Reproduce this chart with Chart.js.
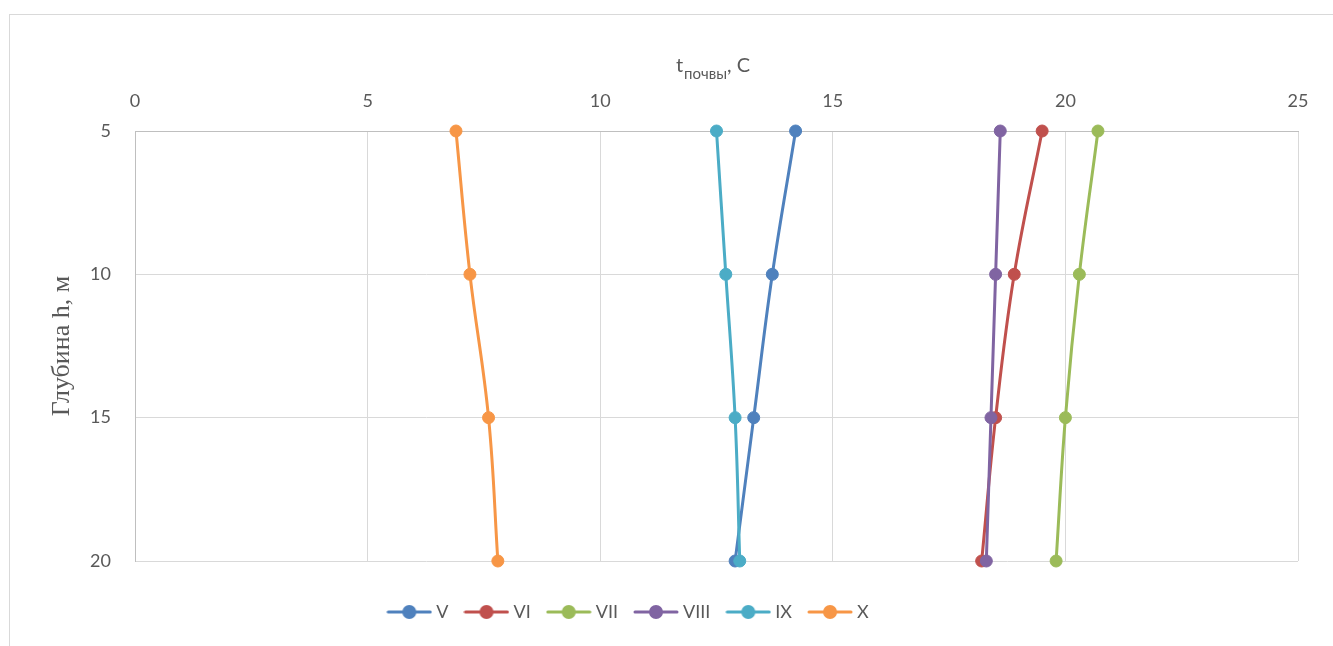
<!DOCTYPE html>
<html>
<head>
<meta charset="utf-8">
<script src="https://cdn.jsdelivr.net/npm/chart.js@4/dist/chart.umd.min.js"></script>
<style>
  html, body { margin: 0; padding: 0; background: #fff; overflow: hidden; }
  #frame { position: absolute; left: 9px; top: 14px; width: 1340px; height: 650px; border: 1px solid #d9d9d9; box-sizing: border-box; }
  #wrap { position: absolute; left: 0; top: 0; width: 1333px; height: 646px; }
</style>
</head>
<body>
<div id="frame"></div>
<div id="wrap"><canvas id="c" width="1333" height="646"></canvas></div>
<script>
// Soil temperature by depth, months V–X
const depths = [5, 10, 15, 20];
const months = ['V', 'VI', 'VII', 'VIII', 'IX', 'X'];
const tempV    = [14.2, 13.7, 13.3, 12.9];
const tempVI   = [19.5, 18.9, 18.5, 18.2];
const tempVII  = [20.7, 20.3, 20.0, 19.8];
const tempVIII = [18.6, 18.5, 18.4, 18.3];
const tempIX   = [12.5, 12.7, 12.9, 13.0];
const tempX    = [6.9, 7.2, 7.6, 7.8];
const xTicks = [0, 5, 10, 15, 20, 25];
const yTicks = [5, 10, 15, 20];

const series = [tempV, tempVI, tempVII, tempVIII, tempIX, tempX];
const colors = ['#4F81BD', '#C0504D', '#9BBB59', '#8064A2', '#4BACC6', '#F79646'];
const tickFont = { family: 'Lato', size: 18 };
const textColor = '#595959';

// legend swatch: short line with a dot in the middle
function swatch(color) {
  const cv = document.createElement('canvas');
  cv.width = 46; cv.height = 16;
  const g = cv.getContext('2d');
  g.strokeStyle = color; g.lineWidth = 3; g.lineCap = 'round';
  g.beginPath(); g.moveTo(2, 8); g.lineTo(44, 8); g.stroke();
  g.fillStyle = color;
  g.beginPath(); g.arc(23, 8, 7, 0, Math.PI * 2); g.fill();
  return cv;
}
const swatches = colors.map(swatch);

const datasets = series.map((vals, i) => ({
  label: months[i],
  data: vals.map((v, k) => ({ x: v, y: depths[k] })),
  borderColor: colors[i],
  backgroundColor: colors[i],
  pointBackgroundColor: colors[i],
  pointBorderColor: colors[i],
  pointRadius: 6,
  pointBorderWidth: 1,
  borderWidth: 3,
  showLine: true,
  tension: 0.4,
  clip: false,
  order: series.length - i
}));

// axis title above the top scale: t with subscript "почвы", then ", C"
const topTitle = {
  id: 'topTitle',
  afterDraw(chart) {
    const ctx = chart.ctx;
    const a = chart.chartArea;
    const cx = (a.left + a.right) / 2 - 4;
    const big = '20px Lato', small = '15px Lato';
    ctx.save();
    ctx.fillStyle = textColor;
    ctx.textBaseline = 'alphabetic';
    ctx.font = big; const w1 = ctx.measureText('t').width;
    ctx.font = small; const w2 = ctx.measureText('почвы').width;
    ctx.font = big; const w3 = ctx.measureText(', C').width;
    let x = cx - (w1 + w2 + w3) / 2;
    ctx.textAlign = 'left';
    ctx.font = big; ctx.fillText('t', x, 72); x += w1 + 1;
    ctx.font = small; ctx.fillText('почвы', x, 79); x += w2;
    ctx.font = big; ctx.fillText(', C', x, 72);
    ctx.restore();
  }
};

const legendShift = {
  id: 'legendShift',
  afterLayout(chart) {
    const l = chart.legend;
    if (l) { l.left -= 19; l.right -= 19; }
  }
};

new Chart(document.getElementById('c'), {
  type: 'scatter',
  data: { datasets },
  plugins: [topTitle, legendShift],
  options: {
    responsive: false,
    animation: false,
    layout: { padding: { left: 0, top: 0, right: 35, bottom: 15 } },
    scales: {
      x: {
        type: 'linear', position: 'top', min: 0, max: 25,
        afterBuildTicks(s) { s.ticks = xTicks.map(v => ({ value: v })); },
        afterFit(s) { s.height = 131; },
        grid: { color: '#d9d9d9', lineWidth: 1, drawTicks: false },
        border: { display: true, color: '#bfbfbf', width: 1 },
        ticks: { color: textColor, font: tickFont, padding: 19 }
      },
      y: {
        type: 'linear', position: 'left', min: 5, max: 20, reverse: true,
        afterBuildTicks(s) { s.ticks = yTicks.map(v => ({ value: v })); },
        afterFit(s) { s.width = 135; },
        grid: { color: '#d9d9d9', lineWidth: 1, drawTicks: false },
        border: { display: true, color: '#bfbfbf', width: 1 },
        ticks: { color: textColor, font: tickFont, padding: 24 },
        title: { display: true, text: 'Глубина h, м', color: textColor,
                 font: { family: 'Liberation Serif', size: 26 }, padding: { top: 47, bottom: 0 } }
      },
      gap: {
        type: 'linear', position: 'bottom', display: true,
        afterFit(s) { s.height = 22; },
        grid: { display: false, drawTicks: false }, border: { display: false },
        ticks: { display: false }
      }
    },
    plugins: {
      legend: {
        position: 'bottom',
        labels: {
          usePointStyle: true,
          pointStyleWidth: 36,
          padding: 20,
          color: textColor,
          font: tickFont,
          sort: (a, b) => a.datasetIndex - b.datasetIndex,
          generateLabels(chart) {
            const items = Chart.defaults.plugins.legend.labels.generateLabels(chart);
            items.forEach(it => { it.pointStyle = swatches[it.datasetIndex]; });
            return items;
          }
        }
      },
      tooltip: { enabled: false }
    }
  }
});
</script>
</body>
</html>
